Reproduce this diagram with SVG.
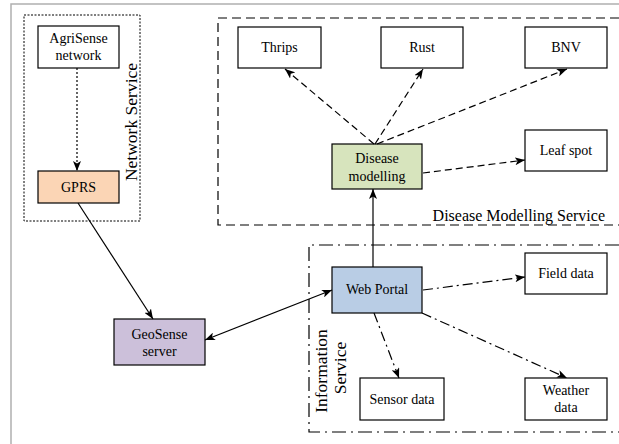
<svg xmlns="http://www.w3.org/2000/svg" width="619" height="444" viewBox="0 0 619 444">
<defs>
<marker id="ah" viewBox="0 0 10 8" refX="10" refY="4" markerWidth="10" markerHeight="8" markerUnits="userSpaceOnUse" orient="auto-start-reverse">
<path d="M0,0 L10,4 L0,8 L2.5,4 Z" fill="#000"/>
</marker>
</defs>
<style>
text{font-family:"Liberation Serif","Times New Roman",serif;fill:#000;}
.n rect{stroke:#000;stroke-width:1.2;}
.n text{font-size:14px;text-anchor:middle;}
.big{font-size:16px;}
.rot{font-size:17.5px;}
.c line,.c path{fill:none;stroke:#000;stroke-width:1.2;}
.dash{stroke-dasharray:7,4;}
.dot{stroke-dasharray:2,2;}
.dd{stroke-dasharray:10,4,2,4;}
</style>
<rect width="619" height="444" fill="#fff"/>
<path d="M11,444 V4 H619" fill="none" stroke="#b0b0b0" stroke-width="1.5"/>

<g id="network-service">
<rect x="24" y="15" width="116" height="206" fill="none" stroke="#000" stroke-width="1" stroke-dasharray="2,1.5"/>
<text class="rot" transform="translate(137,122) rotate(-90)" text-anchor="middle">Network Service</text>
</g>
<g id="disease-modelling-service">
<path d="M619,18 H218 V225 H619" fill="none" stroke="#000" stroke-width="1.2" stroke-dasharray="9,5"/>
<text class="big" x="605" y="221" text-anchor="end">Disease Modelling Service</text>
</g>
<g id="information-service">
<path d="M619,245 H309 V432 H619" fill="none" stroke="#000" stroke-width="1.2" stroke-dasharray="14,5,2,5"/>
<text class="rot" transform="translate(327,371) rotate(-90)" text-anchor="middle">Information</text>
<text class="rot" transform="translate(346,368) rotate(-90)" text-anchor="middle">Service</text>
</g>

<g id="agrisense" class="n"><rect x="38" y="26" width="81" height="42" fill="#fff"/><text x="78.5" y="43">AgriSense</text><text x="78.5" y="60">network</text></g>
<g id="gprs" class="n"><rect x="38" y="171" width="81" height="32" fill="#fbd5b5"/><text x="78.5" y="192">GPRS</text></g>
<g id="geosense" class="n"><rect x="114" y="319" width="91" height="46" fill="#ccc0da"/><text x="159.5" y="339">GeoSense</text><text x="159.5" y="356">server</text></g>
<g id="thrips" class="n"><rect x="238" y="27" width="83" height="41" fill="#fff"/><text x="279.5" y="52">Thrips</text></g>
<g id="rust" class="n"><rect x="381" y="27" width="82" height="41" fill="#fff"/><text x="422" y="52">Rust</text></g>
<g id="bnv" class="n"><rect x="525" y="27" width="82" height="41" fill="#fff"/><text x="566" y="52">BNV</text></g>
<g id="leafspot" class="n"><rect x="525" y="130" width="82" height="41" fill="#fff"/><text x="566" y="155">Leaf spot</text></g>
<g id="disease-modelling" class="n"><rect x="332" y="144" width="90" height="45" fill="#d7e4bd"/><text x="377" y="163">Disease</text><text x="377" y="181">modelling</text></g>
<g id="web-portal" class="n"><rect x="332" y="267" width="90" height="46" fill="#b9cde5"/><text x="377" y="294">Web Portal</text></g>
<g id="field-data" class="n"><rect x="525" y="253" width="82" height="41" fill="#fff"/><text x="566" y="278">Field data</text></g>
<g id="sensor-data" class="n"><rect x="360" y="378" width="84" height="42" fill="#fff"/><text x="402" y="404">Sensor data</text></g>
<g id="weather-data" class="n"><rect x="525" y="378" width="82" height="42" fill="#fff"/><text x="566" y="395">Weather</text><text x="566" y="412">data</text></g>

<g id="connectors" class="c">
<line class="dot" x1="77" y1="68" x2="77" y2="171" marker-end="url(#ah)"/>
<line x1="78" y1="203" x2="153" y2="319" marker-end="url(#ah)"/>
<line x1="205" y1="340" x2="332" y2="290" marker-start="url(#ah)" marker-end="url(#ah)"/>
<line x1="373" y1="267" x2="373" y2="189" marker-end="url(#ah)"/>
<line class="dash" x1="374" y1="144" x2="285" y2="69" marker-end="url(#ah)"/>
<line class="dash" x1="375" y1="144" x2="423" y2="69" marker-end="url(#ah)"/>
<line class="dash" x1="377" y1="144" x2="567" y2="69" marker-end="url(#ah)"/>
<line class="dash" x1="423" y1="173" x2="525" y2="160" marker-end="url(#ah)"/>
<line class="dd" x1="423" y1="290" x2="525" y2="277" marker-end="url(#ah)"/>
<line class="dd" x1="374" y1="313" x2="399" y2="378" marker-end="url(#ah)"/>
<line class="dd" x1="422" y1="313" x2="567" y2="378" marker-end="url(#ah)"/>
</g>
</svg>
